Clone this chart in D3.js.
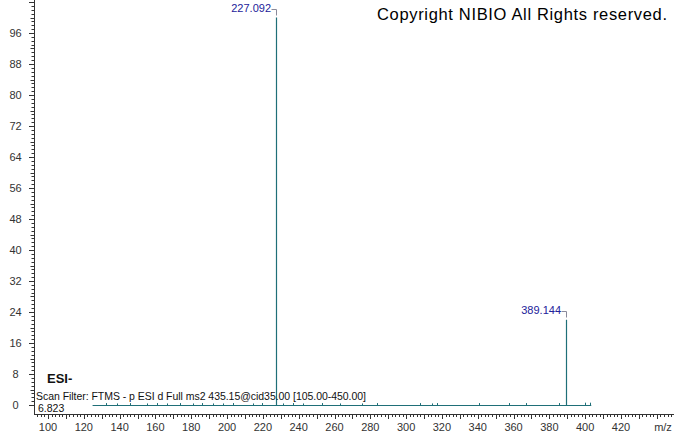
<!DOCTYPE html>
<html>
<head>
<meta charset="utf-8">
<script src="https://cdn.jsdelivr.net/npm/d3@7/dist/d3.min.js"></script>
<style>
  body { margin: 0; background: #fff; }
  svg { display: block; font-family: "Liberation Sans", Arial, sans-serif; }
</style>
</head>
<body>
<div id="chart-area"></div>
<script>
// spectrum data
var peakMz = [227.092, 389.144];
var peakInt = [100, 22];
var peakLabels = ["227.092", "389.144"];

// small noise sticks along the baseline
var noiseMz = [132.4, 138.4, 145.8, 155.1, 160.7, 166.3, 173.7, 181.1, 185.8, 192.3, 197.9, 203.5,
    214.7, 219.3, 231.4, 237.0, 242.6, 252.9, 263.1, 275.2, 283.6, 307.8, 314.3, 317.4, 340.9,
    357.7, 366.8, 385.6, 400.0, 402.8];
var noiseInt = [0.5, 0.4, 0.5, 0.4, 0.5, 0.4, 0.5, 0.4, 0.5, 0.4, 0.4, 0.5,
    0.4, 0.5, 0.4, 0.5, 0.4, 0.5, 0.4, 0.4, 0.5, 0.5, 0.4, 0.5, 0.5,
    0.5, 0.5, 0.5, 0.6, 0.6];
var scanStart = 124.9;
var scanEnd = 403.4;

var xTickLabels = [100, 120, 140, 160, 180, 200, 220, 240, 260, 280, 300, 320, 340, 360, 380, 400, 420];
var yTickLabels = [0, 8, 16, 24, 32, 40, 48, 56, 64, 72, 80, 88, 96];

var width = 674, height = 434;

var svg = d3.select("#chart-area")
    .append("svg")
    .attr("width", width)
    .attr("height", height);

// Scales
var x = d3.scaleLinear()
    .domain([100, 420])
    .range([48, 621]);

var y = d3.scaleLinear()
    .domain([0, 100])
    .range([405, 17.5]);

var axisColor = "#333";

// y axis
svg.append("line")
    .attr("x1", 34.5).attr("x2", 34.5)
    .attr("y1", 0).attr("y2", 414)
    .attr("stroke", axisColor);

svg.append("g").selectAll("line")
    .data(d3.range(0, 105, 1))
    .enter().append("line")
    .attr("x1", function(d) { return d % 8 == 0 ? 29 : (d % 4 == 0 ? 30.5 : 31.5); })
    .attr("x2", 34.5)
    .attr("y1", function(d) { return Math.round(y(d)) + 0.5; })
    .attr("y2", function(d) { return Math.round(y(d)) + 0.5; })
    .attr("stroke", axisColor);

svg.append("g").selectAll("text")
    .data(yTickLabels)
    .enter().append("text")
    .attr("x", 15.5)
    .attr("y", function(d) { return y(d) + 4; })
    .attr("text-anchor", "middle")
    .attr("font-size", 11)
    .attr("fill", axisColor)
    .text(function(d) { return d; });

// x axis
svg.append("line")
    .attr("x1", 34).attr("x2", 674)
    .attr("y1", 414.5).attr("y2", 414.5)
    .attr("stroke", axisColor);

svg.append("g").selectAll("line")
    .data(d3.range(94, 452, 2))
    .enter().append("line")
    .attr("x1", function(d) { return Math.round(x(d)) + 0.5; })
    .attr("x2", function(d) { return Math.round(x(d)) + 0.5; })
    .attr("y1", 414.5)
    .attr("y2", function(d) { return d % 10 == 0 ? 419 : 417; })
    .attr("stroke", axisColor);

svg.append("g").selectAll("text")
    .data(xTickLabels)
    .enter().append("text")
    .attr("x", function(d) { return x(d); })
    .attr("y", 431)
    .attr("text-anchor", "middle")
    .attr("font-size", 11)
    .attr("fill", axisColor)
    .text(function(d) { return d; });

svg.append("text")
    .attr("x", 663).attr("y", 431)
    .attr("text-anchor", "middle")
    .attr("font-size", 11)
    .attr("fill", axisColor)
    .text("m/z");

// spectrum sticks
var stickColor = "#1f6f78";

svg.append("line")
    .attr("x1", x(scanStart)).attr("x2", x(scanEnd))
    .attr("y1", y(0) + 0.5).attr("y2", y(0) + 0.5)
    .attr("stroke", stickColor);

svg.append("g").selectAll("line")
    .data(noiseMz)
    .enter().append("line")
    .attr("x1", function(d) { return Math.round(x(d)) + 0.5; })
    .attr("x2", function(d) { return Math.round(x(d)) + 0.5; })
    .attr("y1", y(0))
    .attr("y2", function(d, i) { return y(noiseInt[i]); })
    .attr("stroke", stickColor);

svg.append("g").selectAll("line")
    .data(peakMz)
    .enter().append("line")
    .attr("x1", function(d) { return Math.round(x(d)) + 0.5; })
    .attr("x2", function(d) { return Math.round(x(d)) + 0.5; })
    .attr("y1", y(0) + 1)
    .attr("y2", function(d, i) { return y(peakInt[i]); })
    .attr("stroke", stickColor)
    .attr("stroke-width", 1.2);

// peak labels with bracket
var lab = svg.append("g").selectAll("g")
    .data(peakMz)
    .enter().append("g");

lab.append("text")
    .attr("x", function(d) { return Math.round(x(d)) - 5; })
    .attr("y", function(d, i) { return y(peakInt[i]) - 6; })
    .attr("text-anchor", "end")
    .attr("font-size", 11)
    .attr("fill", "#22229a")
    .text(function(d, i) { return peakLabels[i]; });

lab.append("path")
    .attr("d", function(d, i) {
        var px = Math.round(x(d)) + 0.5;
        var py = Math.round(y(peakInt[i])) - 8.5;
        return "M" + (px - 5) + "," + py + "H" + px + "V" + (py + 6);
    })
    .attr("fill", "none")
    .attr("stroke", "#8a8a9a");

// annotations
svg.append("text")
    .attr("x", 377).attr("y", 20)
    .attr("font-size", 16.5)
    .attr("fill", "#000")
    .attr("textLength", 290)
    .text("Copyright NIBIO All Rights reserved.");

svg.append("text")
    .attr("x", 47).attr("y", 383)
    .attr("font-size", 13)
    .attr("font-weight", "bold")
    .attr("fill", "#111")
    .text("ESI-");

svg.append("text")
    .attr("x", 36).attr("y", 400)
    .attr("font-size", 10.5)
    .attr("fill", "#111")
    .attr("textLength", 330)
    .text("Scan Filter: FTMS - p ESI d Full ms2 435.15@cid35.00 [105.00-450.00]");

svg.append("text")
    .attr("x", 38).attr("y", 412)
    .attr("font-size", 10.5)
    .attr("fill", "#111")
    .text("6.823");
</script>
</body>
</html>
